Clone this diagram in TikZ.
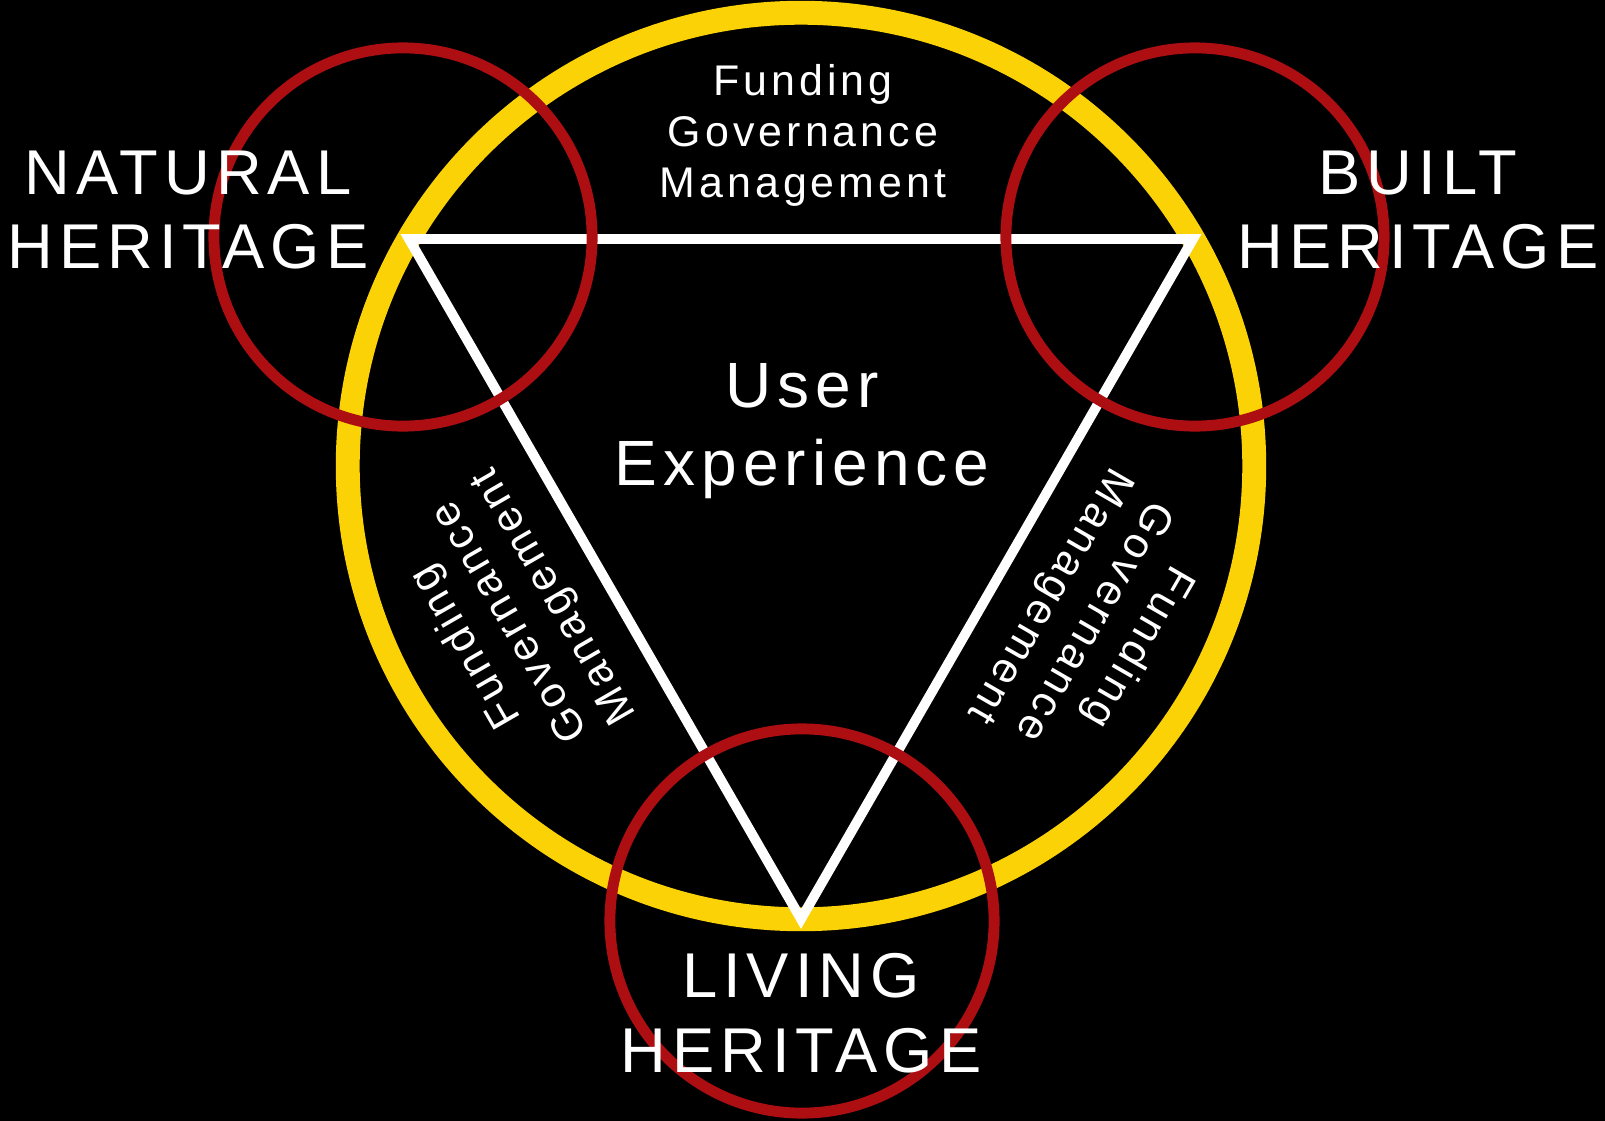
\documentclass[tikz,border=0pt]{standalone}
\usepackage{fontspec}
\setmainfont{Liberation Sans}
\newfontfamily\spaced[LetterSpace=9.5]{Liberation Sans}
\usepackage{xcolor}
\usepackage{tikz}
\definecolor{ringyellow}{RGB}{250,210,5}
\definecolor{halored}{RGB}{172,14,18}
\tikzset{
  ring/.style = {draw=ringyellow, line width=6.8pt},
  side/.style = {draw=white, line width=2.8pt, line join=miter},
  halo/.style = {draw=halored, line width=3.1pt},
  heritage/.style = {text=white, align=center, inner sep=0pt, font=\spaced\fontsize{18}{21.3}\selectfont},
  centrelabel/.style = {text=white, align=center, inner sep=0pt, font=\spaced\fontsize{18.2}{22.2}\selectfont},
  note/.style = {text=white, align=center, inner sep=0pt, font=\spaced\fontsize{12.2}{14.5}\selectfont}
}
\begin{document}
\begin{tikzpicture}[x=0.01cm, y=-0.01cm]
  \fill[black] (0,0) rectangle (1605,1121);
  \useasboundingbox (0,0) rectangle (1605,1121);
  % ring and triangle
  \coordinate (centre) at (801,466);
  \coordinate (nv) at (409,239);
  \coordinate (bv) at (1193,239);
  \coordinate (lv) at (801,919);
  \draw[ring] (centre) circle[radius=4.53cm];
  \draw[side] (nv) -- (bv) -- (lv) -- cycle;
  % heritage circles
  \coordinate (natc) at (403,237);
  \coordinate (builtc) at (1195,237);
  \coordinate (livc) at (802,921);
  \draw[halo] (natc) circle[radius=1.89cm];
  \draw[halo] (builtc) circle[radius=1.89cm];
  \draw[halo] (livc) circle[radius=1.92cm];
  % labels
  \node[heritage] (natural) at (188,210) {NATURAL\\HERITAGE};
  \node[heritage] (built) at (1418,210) {BUILT\\HERITAGE};
  \node[heritage] (living) at (801,1013) {LIVING\\HERITAGE};
  \node[centrelabel] (user) at (802,431) {User\\Experience};
  \node[note] (topnote) at (803,135) {Funding\\Governance\\Management};
  \node[note, rotate=120] (leftnote) at (511,621) {Funding\\Governance\\Management};
  \node[note, rotate=-120] (rightnote) at (1093,621) {Funding\\Governance\\Management};
\end{tikzpicture}
\end{document}
